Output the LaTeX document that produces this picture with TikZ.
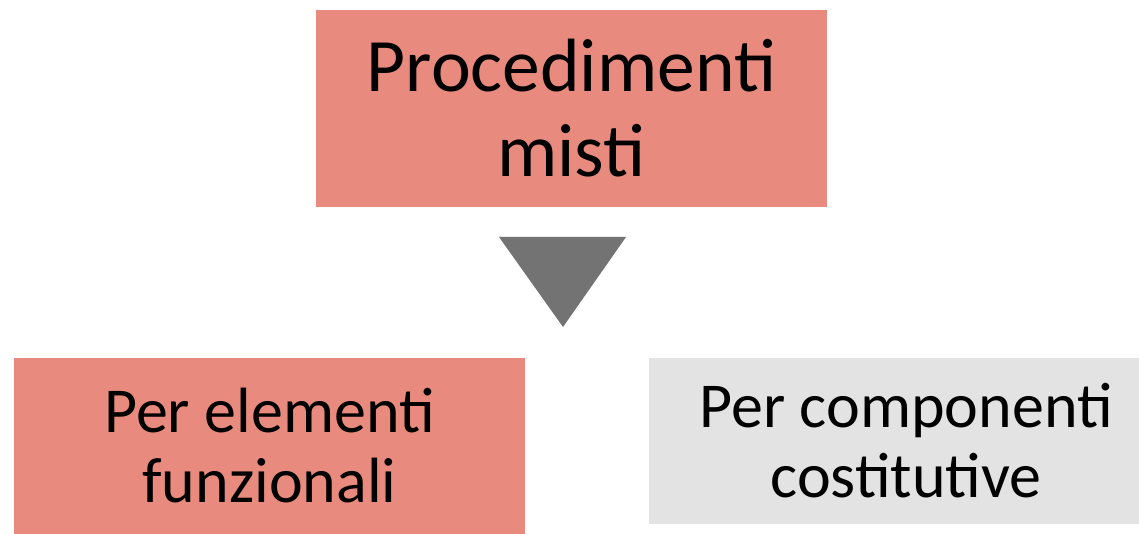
\documentclass[tikz,border=0pt]{standalone}
\usepackage{fontspec}
\setmainfont{Carlito}
\definecolor{salmon}{HTML}{E88B7E}
\definecolor{lightgrey}{HTML}{E3E3E3}
\definecolor{arrowgrey}{HTML}{737373}
\tikzset{
  box/.style={rectangle, inner sep=0pt, align=center, text=black},
  bigtext/.style={font=\fontsize{75.5}{85}\selectfont},
  smalltext/.style={font=\fontsize{64}{70}\selectfont}
}
\begin{document}
\begin{tikzpicture}[x=1pt,y=-1pt]
\useasboundingbox (0,0) rectangle (1139,534);
\clip (0,0) rectangle (1139,534);
\node[box, bigtext, fill=salmon, minimum width=511pt, minimum height=197pt] (top) at (571.5,108.5) {Procedimenti\\misti};
\coordinate (tl) at (499,237);
\coordinate (tr) at (626,237);
\coordinate (tb) at (563,327);
\fill[arrowgrey] (tl) -- (tr) -- (tb) -- cycle;
\node[box, smalltext, fill=salmon, minimum width=511pt, minimum height=176pt] (left) at (269.5,446) {Per elementi\\funzionali};
\node[box, smalltext, fill=lightgrey, minimum width=514pt, minimum height=166pt] (right) at (906,441) {Per componenti\\costitutive};
\end{tikzpicture}
\end{document}
